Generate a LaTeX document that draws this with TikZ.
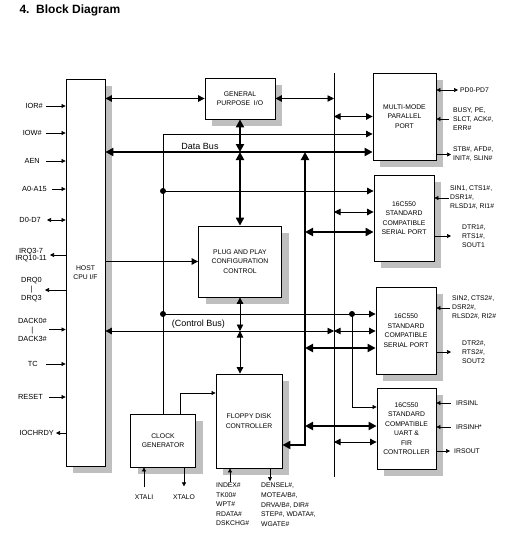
\documentclass[tikz,border=0pt]{standalone}
\usepackage{fontspec}
\setmainfont{Liberation Sans}
\usetikzlibrary{arrows.meta,shadows,calc}
\newcommand{\bxfont}{\fontsize{6.8}{9.5}\selectfont}
\newcommand{\sdfont}{\fontsize{6.8}{9}\selectfont}
\newcommand{\lffont}{\fontsize{7.4}{9}\selectfont}
\newcommand{\busfont}{\fontsize{9}{11}\selectfont}
\tikzset{
  blk/.style={draw,fill=white,line width=0.8pt,align=center,font=\bxfont,
    drop shadow={shadow xshift=7pt,shadow yshift=-7pt,fill=black!25,opacity=1}},
  dbus/.style={line width=2pt,>={Triangle[length=8pt,width=8pt]}},
  cbus/.style={line width=0.9pt,>={Triangle[length=6.5pt,width=6.5pt]}},
  sig/.style={line width=0.7pt,>={Triangle[length=4pt,width=4pt]}},
  lft/.style={font=\lffont,inner sep=0pt,align=center},
  rgt/.style={font=\sdfont,inner sep=0pt,align=left},
}
\begin{document}
\begin{tikzpicture}[x=1pt,y=-1pt]
  \useasboundingbox (0,0) rectangle (521,536);
  \node[anchor=west,font=\bfseries\fontsize{12}{14}\selectfont] (title) at (16,10) {4.\ \ Block Diagram};

  % function blocks
  \node[blk,minimum width=39pt,minimum height=387pt] (host) at (85.5,272.5) {HOST\\CPU I/F};
  \node[blk,minimum width=70pt,minimum height=41pt] (gpio) at (240,98.5) {GENERAL\\PURPOSE\ \ I/O};
  \node[blk,minimum width=83pt,minimum height=71pt] (pnp) at (240,261.5) {PLUG AND PLAY\\CONFIGURATION\\CONTROL};
  \node[blk,minimum width=66pt,minimum height=94pt] (fdc) at (249,421) {FLOPPY DISK\\CONTROLLER};
  \node[blk,minimum width=65pt,minimum height=53pt] (clk) at (163,440.5) {CLOCK\\GENERATOR};
  \node[blk,minimum width=63pt,minimum height=87pt] (pport) at (404.5,116.5) {MULTI-MODE\\PARALLEL\\PORT};
  \node[blk,minimum width=60pt,minimum height=86pt] (ser1) at (404,218) {16C550\\STANDARD\\COMPATIBLE\\SERIAL PORT};
  \node[blk,minimum width=60pt,minimum height=87pt] (ser2) at (406,330.5) {16C550\\STANDARD\\COMPATIBLE\\SERIAL PORT};
  \node[blk,minimum width=59pt,minimum height=81pt] (uart) at (406.5,428.5) {16C550\\STANDARD\\COMPATIBLE\\UART \&\\FIR\\CONTROLLER};

  % host signals
  \node[lft,anchor=east] (ior) at (43,106) {IOR\#};
  \node[lft,anchor=east] (iow) at (42,133) {IOW\#};
  \node[lft,anchor=east] (aen) at (40,161) {AEN};
  \node[lft,anchor=east] (adr) at (47,189) {A0-A15};
  \node[lft,anchor=east] (dat) at (41,220) {D0-D7};
  \node[lft,anchor=east,font=\fontsize{7.4}{7.5}\selectfont] (irq) at (47,255) {IRQ3-7\\IRQ10-11};
  \node[lft,anchor=east] (drq) at (42,290) {DRQ0\\\textbar\\DRQ3};
  \node[lft,anchor=east] (dack) at (47,329.5) {DACK0\#\\\textbar\\DACK3\#};
  \node[lft,anchor=east] (tc) at (38,364) {TC};
  \node[lft,anchor=east] (rst) at (43,397) {RESET};
  \node[lft,anchor=east] (rdy) at (54,433) {IOCHRDY};
  \draw[sig,->,shorten <=3pt] (ior) -- (ior -| host.west);
  \draw[sig,->,shorten <=4pt] (iow) -- (iow -| host.west);
  \draw[sig,->,shorten <=6pt] (aen) -- (aen -| host.west);
  \draw[sig,->,shorten <=5pt] (adr) -- (adr -| host.west);
  \draw[sig,<->,shorten <=6pt] (dat) -- (dat -| host.west);
  \draw[sig,<-,shorten <=3pt] (irq) -- (irq -| host.west);
  \draw[sig,<-,shorten <=3pt] (drq) -- (drq -| host.west);
  \draw[sig,->,shorten <=2pt] (dack) -- (dack -| host.west);
  \draw[sig,->,shorten <=8pt] (tc) -- (tc -| host.west);
  \draw[sig,->,shorten <=6pt] (rst) -- (rst -| host.west);
  \draw[sig,<-,shorten <=2pt] (rdy) -- (rdy -| host.west);

  % data bus and its column
  \coordinate (dbj) at (305,152);
  \coordinate (fdj) at (305,445);
  \draw[dbus,<->] (host.east |- dbj) -- (dbj -| pport.west);
  \node[font=\busfont,anchor=south,inner sep=1pt] (dblbl) at (200,151) {Data Bus};
  \draw[dbus,<->] (gpio.south) -- (gpio.south |- dbj);
  \draw[dbus,<->] (gpio.south |- dbj) -- (pnp.north);
  \draw[dbus,<->] (dbj) -- (fdj) -- (fdj -| fdc.east);
  \coordinate (s1d) at (305,232);
  \coordinate (s2d) at (305,348);
  \coordinate (ud) at (305,426);
  \draw[dbus,<->] (s1d) -- (s1d -| ser1.west);
  \draw[dbus,<->] (s2d) -- (s2d -| ser2.west);
  \draw[dbus,<->] (ud) -- (ud -| uart.west);

  % vertical line to the ports
  \coordinate (vt) at (334,73);
  \coordinate (vb) at (334,477);
  \coordinate (cbj) at (334,331);
  \coordinate (s1v) at (334,212);
  \coordinate (uv) at (334,442);
  \draw[cbus] (vt) -- (vb);
  \draw[cbus,<->] (host.east |- gpio.west) -- (gpio.west);
  \draw[cbus,<->] (gpio.east) -- (gpio.east -| vt);
  \draw[cbus,<->] (pport.west -| vt) -- (pport.west);
  \draw[cbus,<->] (s1v) -- (s1v -| ser1.west);
  \draw[cbus,<->] (uv) -- (uv -| uart.west);

  % control bus
  \draw[cbus,<->] (host.east |- cbj) -- (cbj);
  \draw[cbus,<->] (cbj) -- (cbj -| ser2.west);
  \node[font=\busfont,anchor=south,inner sep=1pt] (cblbl) at (198.5,330) {(Control Bus)};
  \draw[cbus,->] (host.east |- pnp.west) -- (pnp.west);
  \draw[cbus,<->] (pnp.south) -- (pnp.south |- cbj);
  \draw[cbus,<->] (pnp.south |- cbj) -- (fdc.north -| pnp.south);

  % address line with taps
  \coordinate (ab) at (163,134);
  \coordinate (t1) at (163,191);
  \coordinate (t2) at (163,314);
  \coordinate (t3) at (352,314);
  \coordinate (t4) at (352,407);
  \draw[cbus,->] (clk.north) -- (ab) -- (ab -| pport.west);
  \draw[cbus,->] (t1) -- (t1 -| ser1.west);
  \draw[cbus,->] (t2) -- (t2 -| ser2.west);
  \draw[sig,->] (t3) -- (t4) -- (t4 -| uart.west);
  \foreach \tp in {t1,t2,t3}
    \fill (\tp) circle (3pt);

  % clock
  \coordinate (ck) at (180,393);
  \draw[sig,->] (ck |- clk.north) -- (ck) -- (ck -| fdc.west);
  \node[rgt] (xtali) at (144,497) {XTALI};
  \node[rgt] (xtalo) at (184,497) {XTALO};
  \draw[sig,->,shorten <=7pt] (xtali) -- (xtali |- clk.south);
  \draw[sig,->,shorten >=8pt] (xtalo |- clk.south) -- (xtalo);

  % floppy pins
  \node[rgt,anchor=north west,font=\fontsize{6.8}{9.5}\selectfont] (fdi) at (216,483) {INDEX\#\\TK00\#\\WPT\#\\RDATA\#\\DSKCHG\#};
  \node[rgt,anchor=north west,font=\fontsize{6.8}{9.6}\selectfont] (fdo) at (261,483) {DENSEL\#,\\MOTEA/B\#,\\DRVA/B\#, DIR\#\\STEP\#, WDATA\#,\\WGATE\#};
  \coordinate (fin) at (230,482);
  \coordinate (fout) at (270,481);
  \draw[sig,->] (fin) -- (fin |- fdc.south);
  \draw[sig,->] (fout |- fdc.south) -- (fout);

  % port pins
  \node[rgt,anchor=west] (pd) at (460,90) {PD0-PD7};
  \node[rgt,anchor=west] (bsy) at (453,119) {BUSY, PE,\\SLCT, ACK\#,\\ERR\#};
  \node[rgt,anchor=west] (stb) at (453,154.5) {STB\#, AFD\#,\\INIT\#, SLIN\#};
  \draw[sig,<->,shorten >=2pt] (pport.east |- pd.west) -- (pd.west);
  \draw[sig,->,shorten <=4pt] (bsy.west) -- (bsy.west -| pport.east);
  \draw[sig,->,shorten >=2pt] (pport.east |- stb.west) -- (stb.west);

  \node[rgt,anchor=west] (sin1) at (450,198) {SIN1, CTS1\#,\\DSR1\#,\\RLSD1\#, RI1\#};
  \node[rgt,anchor=west] (dtr1) at (462,236) {DTR1\#,\\RTS1\#,\\SOUT1};
  \draw[sig,->,shorten <=1pt] (sin1.west) -- (sin1.west -| ser1.east);
  \draw[sig,->,shorten >=11pt] (ser1.east |- dtr1.west) -- (dtr1.west);

  \node[rgt,anchor=west] (sin2) at (452,308) {SIN2, CTS2\#,\\DSR2\#,\\RLSD2\#, RI2\#};
  \node[rgt,anchor=west] (dtr2) at (462,352) {DTR2\#,\\RTS2\#,\\SOUT2};
  \draw[sig,->,shorten <=2pt] (sin2.west) -- (sin2.west -| ser2.east);
  \draw[sig,->,shorten >=11pt] (ser2.east |- dtr2.west) -- (dtr2.west);

  \node[rgt,anchor=west] (irl) at (456,403) {IRSINL};
  \node[rgt,anchor=west] (irh) at (456,427) {IRSINH*};
  \node[rgt,anchor=west] (iro) at (454,451) {IRSOUT};
  \draw[sig,->,shorten <=5pt] (irl.west) -- (irl.west -| uart.east);
  \draw[sig,->,shorten <=5pt] (irh.west) -- (irh.west -| uart.east);
  \draw[sig,->,shorten >=4pt] (uart.east |- iro.west) -- (iro.west);
\end{tikzpicture}
\end{document}
